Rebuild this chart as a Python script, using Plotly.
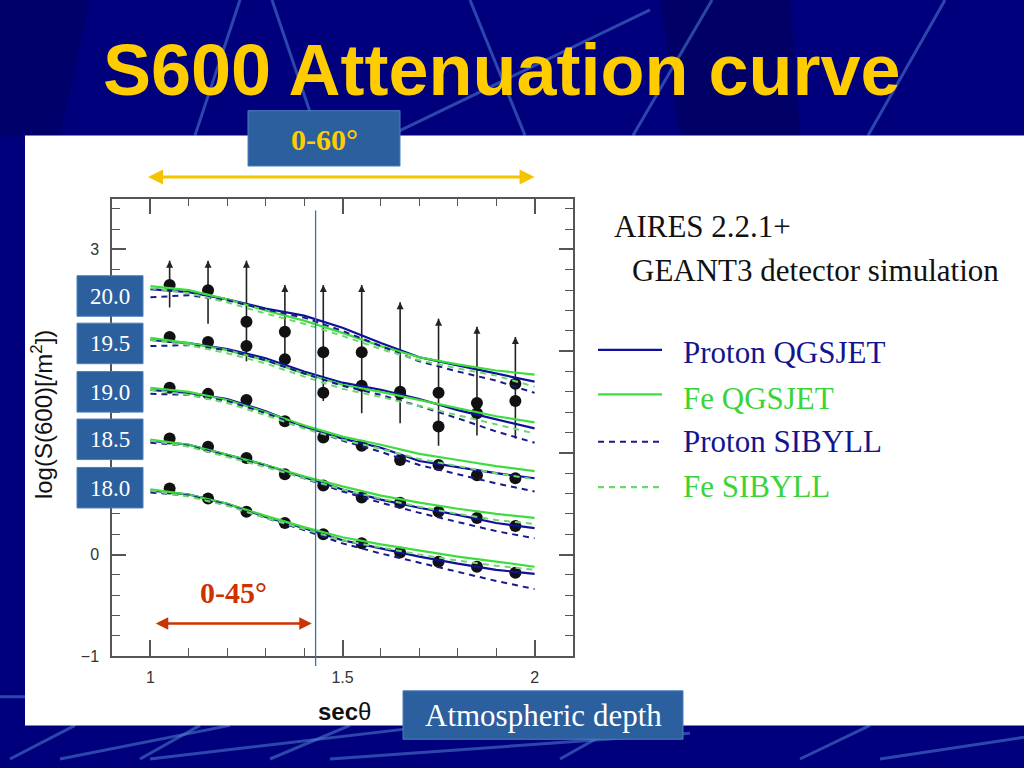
import plotly.graph_objects as go

# ---------------- data ----------------
energies = ["20.0", "19.5", "19.0", "18.5", "18.0"]
sec_grid = [1.0, 1.1, 1.2, 1.3, 1.4, 1.5, 1.6, 1.7, 1.8, 1.9, 2.0]
sec_data = [1.05, 1.15, 1.25, 1.35, 1.45, 1.55, 1.65, 1.75, 1.85, 1.95]

# measured log S(600) per energy (order as energies)
data_200 = [2.65, 2.60, 2.29, 2.19, 1.99, 1.99, 1.60, 1.59, 1.49, 1.68]
data_195 = [2.14, 2.09, 2.05, 1.92, 1.59, 1.66, 1.58, 1.26, 1.39, 1.51]
data_190 = [1.64, 1.58, 1.52, 1.31, 1.15, 1.07, 0.93, 0.88, 0.78, 0.75]
data_185 = [1.14, 1.06, 0.95, 0.79, 0.68, 0.56, 0.51, 0.42, 0.36, 0.28]
data_180 = [0.65, 0.55, 0.42, 0.31, 0.20, 0.11, 0.02, -0.07, -0.12, -0.18]

# asymmetric error bars of the 20.0 sample (upper ends carry arrows)
err_plus_200 = [0.24, 0.29, 0.60, 0.46, 0.66, 0.66, 0.88, 0.73, 0.75, 0.46]
err_minus_200 = [0.22, 0.33, 0.39, 0.31, 0.48, 0.60, 0.31, 0.52, 0.32, 0.54]

# simulation curves (rows follow energies)
proton_qgsjet = [
    [2.61, 2.58, 2.51, 2.42, 2.35, 2.23, 2.08, 1.94, 1.86, 1.78, 1.70],
    [2.11, 2.08, 2.02, 1.93, 1.80, 1.69, 1.62, 1.53, 1.42, 1.33, 1.24],
    [1.62, 1.59, 1.53, 1.41, 1.26, 1.14, 1.05, 0.92, 0.86, 0.80, 0.75],
    [1.12, 1.08, 0.98, 0.88, 0.76, 0.64, 0.54, 0.46, 0.39, 0.31, 0.26],
    [0.63, 0.59, 0.50, 0.37, 0.26, 0.14, 0.06, -0.02, -0.09, -0.15, -0.19],
]
fe_qgsjet = [
    [2.64, 2.60, 2.51, 2.40, 2.30, 2.18, 2.05, 1.94, 1.87, 1.81, 1.77],
    [2.13, 2.08, 2.01, 1.91, 1.78, 1.67, 1.60, 1.52, 1.44, 1.36, 1.30],
    [1.64, 1.60, 1.52, 1.40, 1.27, 1.16, 1.08, 0.99, 0.93, 0.87, 0.82],
    [1.13, 1.08, 0.98, 0.88, 0.77, 0.67, 0.58, 0.51, 0.45, 0.40, 0.36],
    [0.64, 0.59, 0.50, 0.38, 0.27, 0.17, 0.10, 0.04, -0.02, -0.07, -0.12],
]
proton_sibyll = [
    [2.53, 2.55, 2.50, 2.41, 2.33, 2.20, 2.05, 1.90, 1.80, 1.71, 1.59],
    [2.05, 2.06, 2.01, 1.91, 1.78, 1.66, 1.57, 1.46, 1.34, 1.21, 1.10],
    [1.58, 1.57, 1.51, 1.39, 1.25, 1.12, 1.01, 0.88, 0.79, 0.70, 0.62],
    [1.10, 1.07, 0.97, 0.87, 0.75, 0.62, 0.51, 0.41, 0.32, 0.23, 0.16],
    [0.61, 0.58, 0.49, 0.36, 0.24, 0.11, 0.01, -0.08, -0.17, -0.26, -0.34],
]
fe_sibyll = [
    [2.62, 2.57, 2.48, 2.37, 2.27, 2.15, 2.02, 1.91, 1.83, 1.76, 1.65],
    [2.11, 2.06, 1.98, 1.88, 1.75, 1.63, 1.55, 1.46, 1.37, 1.28, 1.19],
    [1.62, 1.57, 1.49, 1.37, 1.24, 1.13, 1.04, 0.94, 0.87, 0.80, 0.74],
    [1.12, 1.06, 0.96, 0.86, 0.75, 0.64, 0.55, 0.47, 0.40, 0.34, 0.30],
    [0.63, 0.57, 0.48, 0.36, 0.25, 0.14, 0.07, 0.00, -0.06, -0.11, -0.15],
]

model_names = ["Proton QGSJET", "Fe QGSJET", "Proton SIBYLL", "Fe SIBYLL"]
x_tickvals = [1, 1.5, 2]
x_ticktext = ["1", "1.5", "2"]
y_tickvals = [-1, 0, 1, 2, 3]
y_ticktext = ["\u22121", "0", "", "", "3"]   # 1 and 2 sit under the energy boxes
sec_45 = 1.43          # vertical marker (theta = 45 deg)
sec_range_60 = [0.99, 2.0]
sec_range_45 = [1.01, 1.42]

# ---------------- helpers ----------------
W, H = 1024, 768
def px(x):
    return x / W
def py(y):
    return 1 - y / H

BLUE = "#10109a"
BLUE_D = "#1a1a88"
GREEN = "#3fdc3f"
GREEN_D = "#6fd66f"
BOX = "#2b5f9e"
NAVY = "#00007c"
SERIF = "Liberation Serif"
SANS = "Liberation Sans"

fig = go.Figure()

# data points
all_data = [data_200, data_195, data_190, data_185, data_180]
for i, vals in enumerate(all_data):
    kw = {}
    if i == 0:
        kw["error_y"] = dict(type="data", symmetric=False, array=err_plus_200,
                             arrayminus=err_minus_200, color="#222222",
                             thickness=1.6, width=0)
    fig.add_trace(go.Scatter(x=sec_data, y=vals, mode="markers",
                             marker=dict(color="#111111", size=12),
                             showlegend=False, hoverinfo="skip", **kw))

# arrow heads on the upper error ends
fig.add_trace(go.Scatter(
    x=sec_data, y=[v + e for v, e in zip(data_200, err_plus_200)],
    mode="markers", marker=dict(symbol="arrow-up", size=7, color="#222222"),
    showlegend=False, hoverinfo="skip"))

# simulation curves
styles = [
    dict(color=BLUE, width=2.2),
    dict(color=GREEN, width=2.2),
    dict(color=BLUE_D, width=2.0, dash="6px,5px"),
    dict(color=GREEN_D, width=2.0, dash="6px,5px"),
]
for model, st, name in zip([proton_qgsjet, fe_qgsjet, proton_sibyll, fe_sibyll],
                           styles, model_names):
    for row in model:
        fig.add_trace(go.Scatter(x=sec_grid, y=row, mode="lines", line=st,
                                 name=name, showlegend=False, hoverinfo="skip"))

# ---------------- shapes ----------------
shapes = []
stripe = "rgba(80,130,210,0.55)"
stripe_lines = [
    (240, 0, 195, 137), (272, 0, 318, 137), (390, 137, 650, 10),
    (470, 0, 525, 137), (712, 0, 633, 137), (945, 0, 868, 137),
    (0, 705, 25, 705),
    (10, 768, 75, 734), (60, 768, 230, 734), (140, 768, 200, 734),
    (150, 768, 420, 736), (270, 768, 350, 734), (330, 768, 690, 742),
    (560, 768, 620, 734), (800, 768, 870, 734), (880, 768, 1024, 746),
]
# darker bands in the title area
shapes.append(dict(type="path", xref="paper", yref="paper",
                   path=f"M {px(660)} {py(0)} L {px(790)} {py(0)} L {px(800)} {py(137)} L {px(680)} {py(137)} Z",
                   fillcolor="#000066", line=dict(width=0), layer="below"))
shapes.append(dict(type="path", xref="paper", yref="paper",
                   path=f"M {px(0)} {py(0)} L {px(90)} {py(0)} L {px(60)} {py(137)} L {px(0)} {py(137)} Z",
                   fillcolor="#00006a", line=dict(width=0), layer="below"))
for x0, y0, x1, y1 in stripe_lines:
    shapes.append(dict(type="line", xref="paper", yref="paper",
                       x0=px(x0), y0=py(y0), x1=px(x1), y1=py(y1),
                       line=dict(color=stripe, width=3), layer="below"))
# white panel
shapes.append(dict(type="rect", xref="paper", yref="paper",
                   x0=px(25), x1=1.0, y0=py(734), y1=py(137),
                   fillcolor="white", line=dict(width=0), layer="below"))
# vertical 45-degree marker
shapes.append(dict(type="line", xref="x", yref="paper", x0=sec_45, x1=sec_45,
                   y0=py(674), y1=py(213), line=dict(color="#3a6fb0", width=1.3),
                   layer="above"))
# label boxes
box_specs = [(248, 112, 400, 168)]
energy_box_y = [279, 327, 376, 424, 473]
for yb in energy_box_y:
    box_specs.append((77, yb, 143, yb + 41))
box_specs.append((403, 699, 683, 748))
for x0, y0, x1, y1 in box_specs:
    shapes.append(dict(type="rect", xref="paper", yref="paper",
                       x0=px(x0), x1=px(x1), y0=py(y1), y1=py(y0),
                       fillcolor=BOX, line=dict(color="#4a7fbf", width=1),
                       layer="above"))
# legend line samples
leg_y = [354, 399, 447, 493]
for st, yy in zip(styles, leg_y):
    shapes.append(dict(type="line", xref="paper", yref="paper",
                       x0=px(598), x1=px(662), y0=py(yy), y1=py(yy),
                       line=dict(color=st["color"], width=2.2,
                                 dash=st.get("dash", "solid")),
                       layer="above"))

# ---------------- annotations ----------------
ann = []
ann.append(dict(text="<b>S600 Attenuation curve</b>", x=px(502), y=py(71),
                font=dict(family=SANS, size=72, color="#ffcc00")))
ann.append(dict(text="<b>0-60°</b>", x=px(324), y=py(141),
                font=dict(family=SERIF, size=30, color="#ffcc00")))
ann.append(dict(text="<b>0-45°</b>", x=px(233), y=py(600),
                font=dict(family=SERIF, size=30, color="#cc3300")))
for lab, yb in zip(energies, energy_box_y):
    ann.append(dict(text=lab, x=px(110), y=py(yb + 21),
                    font=dict(family=SERIF, size=23, color="white")))
ann.append(dict(text="AIRES 2.2.1+", x=px(612), y=py(229), xanchor="left",
                font=dict(family=SERIF, size=31, color="#111111")))
ann.append(dict(text="GEANT3 detector simulation", x=px(630), y=py(274), xanchor="left",
                font=dict(family=SERIF, size=31, color="#111111")))
leg_colors = ["#14148e", "#3ad43a", "#14148e", "#3ad43a"]
leg_text_y = [357, 403, 447, 492]
for name, col, yy in zip(model_names, leg_colors, leg_text_y):
    ann.append(dict(text=name, x=px(681), y=py(yy), xanchor="left",
                    font=dict(family=SERIF, size=31, color=col)))
ann.append(dict(text="log(S(600)[/m<sup>2</sup>])", x=px(42), y=py(420), textangle=-90,
                font=dict(family=SANS, size=24, color="#111111")))
ann.append(dict(text="<b>sec</b>θ", x=px(344), y=py(720),
                font=dict(family=SANS, size=24, color="#111111")))
ann.append(dict(text="Atmospheric depth", x=px(543), y=py(724),
                font=dict(family=SERIF, size=31, color="white")))
for a in ann:
    a.setdefault("xanchor", "center")
    a.setdefault("yanchor", "middle")
    a.update(xref="paper", yref="paper", showarrow=False)

# double-headed range arrows
ann.append(dict(text="", x=sec_range_60[1], y=py(179), xref="x", yref="paper",
                ax=sec_range_60[0], ay=0, axref="x", ayref="pixel",
                showarrow=True, arrowhead=2, arrowside="end+start", arrowsize=1,
                arrowwidth=3, arrowcolor="#f5c400", standoff=0, startstandoff=0))
ann.append(dict(text="", x=sec_range_45[1], y=py(631), xref="x", yref="paper",
                ax=sec_range_45[0], ay=0, axref="x", ayref="pixel",
                showarrow=True, arrowhead=2, arrowside="end+start", arrowsize=1,
                arrowwidth=2.5, arrowcolor="#cc3300", standoff=0, startstandoff=0))

axis_common = dict(showline=True, linecolor="#555555", linewidth=1.5, mirror="ticks",
                   ticks="inside", tickcolor="#555555", tickwidth=1.5, showgrid=False,
                   zeroline=False, tickfont=dict(family=SANS, size=16, color="#333333"))

fig.update_layout(
    width=W, height=H, margin=dict(l=0, r=0, t=0, b=0),
    paper_bgcolor=NAVY, plot_bgcolor="white",
    xaxis=dict(range=[0.9, 2.1], domain=[px(112), px(573)], tickmode="array",
               tickvals=x_tickvals, ticktext=x_ticktext, ticklen=16, ticklabelstandoff=6,
               minor=dict(tickmode="linear", tick0=1.0, dtick=0.1, ticks="inside",
                          ticklen=8, tickcolor="#555555", tickwidth=1.2),
               **axis_common),
    yaxis=dict(range=[-1, 3.5], domain=[py(664), py(201)], tickmode="array",
               tickvals=y_tickvals, ticktext=y_ticktext, ticklen=14, ticklabelstandoff=8,
               minor=dict(tickmode="linear", tick0=0, dtick=0.2, ticks="inside",
                          ticklen=8, tickcolor="#555555", tickwidth=1.2),
               **axis_common),
    shapes=shapes, annotations=ann, showlegend=False,
)

fig.write_html("out.html", config={"displayModeBar": False},
               post_script="document.body.style.margin='0';"
                           "document.body.style.background='#00007c';")
